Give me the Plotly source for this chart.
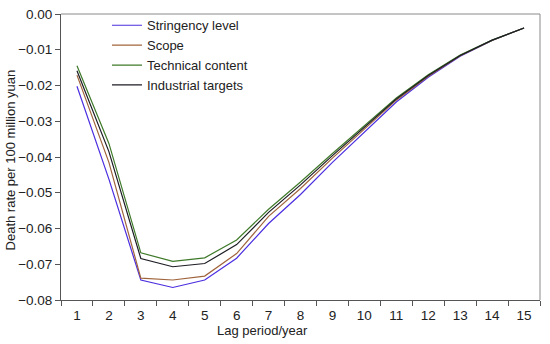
import plotly.graph_objects as go

lag = list(range(1, 16))
stringency = [-0.0202, -0.0462, -0.0744, -0.0765, -0.0744, -0.0683, -0.0586, -0.0505, -0.0415, -0.0330, -0.0246, -0.0177, -0.0118, -0.0074, -0.0039]
scope = [-0.0171, -0.0415, -0.0739, -0.0744, -0.0733, -0.0670, -0.0566, -0.0488, -0.0403, -0.0321, -0.0241, -0.0174, -0.0117, -0.0074, -0.0039]
technical = [-0.0145, -0.0362, -0.0668, -0.0692, -0.0682, -0.0632, -0.0546, -0.0470, -0.0390, -0.0312, -0.0235, -0.0170, -0.0115, -0.0073, -0.0039]
industrial = [-0.0159, -0.0385, -0.0684, -0.0707, -0.0698, -0.0645, -0.0555, -0.0478, -0.0396, -0.0316, -0.0238, -0.0172, -0.0116, -0.0073, -0.0039]

y_ticks = [0.00, -0.01, -0.02, -0.03, -0.04, -0.05, -0.06, -0.07, -0.08]

series = [
    ("Stringency level", stringency, "#4a2ee0"),
    ("Scope", scope, "#a0643c"),
    ("Technical content", technical, "#3f7a2a"),
    ("Industrial targets", industrial, "#1c1c24"),
]

fig = go.Figure()
for name, vals, color in series:
    fig.add_trace(go.Scatter(x=lag, y=vals, mode="lines", name=name,
                             line=dict(color=color, width=1.2)))

font = "Liberation Sans, Arial, sans-serif"
fig.update_layout(
    width=550, height=344,
    margin=dict(l=61, r=10, t=11, b=44),
    paper_bgcolor="white", plot_bgcolor="white",
    font=dict(family=font, size=13, color="#222"),
    showlegend=True,
    legend=dict(x=0.096, y=1.013, xanchor="left", yanchor="top",
                bgcolor="rgba(0,0,0,0)", font=dict(size=13, color="#222"),
                tracegroupgap=0, itemwidth=30),
    xaxis=dict(range=[0.5, 15.5], tickvals=lag, ticktext=[str(v) for v in lag],
               ticks="", showgrid=False, zeroline=False, automargin=False,
               showline=True, linecolor="#555", linewidth=1, mirror=False,
               ticklabelstandoff=3,
               minor=dict(tickvals=[v - 0.5 for v in lag] + [15.5], ticks="outside",
                          ticklen=5, tickcolor="#555", showgrid=False),
               tickfont=dict(size=13.5)),
    yaxis=dict(range=[-0.08, 0.0], tickvals=y_ticks, tickformat=".2f",
               ticks="outside", ticklen=5, tickcolor="#555",
               showgrid=False, zeroline=False, automargin=False,
               showline=True, linecolor="#555", linewidth=1,
               tickfont=dict(size=13.5)),
    annotations=[
        dict(text="Lag period/year", xref="paper", yref="paper",
             x=(262 - 61) / 479, y=-(331 - 300) / 289, xanchor="center", yanchor="middle",
             showarrow=False, font=dict(size=13, color="#222")),
        dict(text="Death rate per 100 million yuan", xref="paper", yref="paper",
             x=-(61 - 10) / 479, y=(300 - 159) / 289, xanchor="center", yanchor="middle",
             textangle=-90, showarrow=False, font=dict(size=13, color="#222")),
    ],
    shapes=[
        dict(type="line", xref="paper", yref="paper", x0=0, x1=1, y0=1, y1=1,
             line=dict(color="#8a8a8a", width=1)),
        dict(type="line", xref="paper", yref="paper", x0=1, x1=1, y0=0, y1=1,
             line=dict(color="#8a8a8a", width=1)),
    ],
)

fig.write_html("out.html", config={"displayModeBar": False},
               post_script="document.body.style.margin='0';")
